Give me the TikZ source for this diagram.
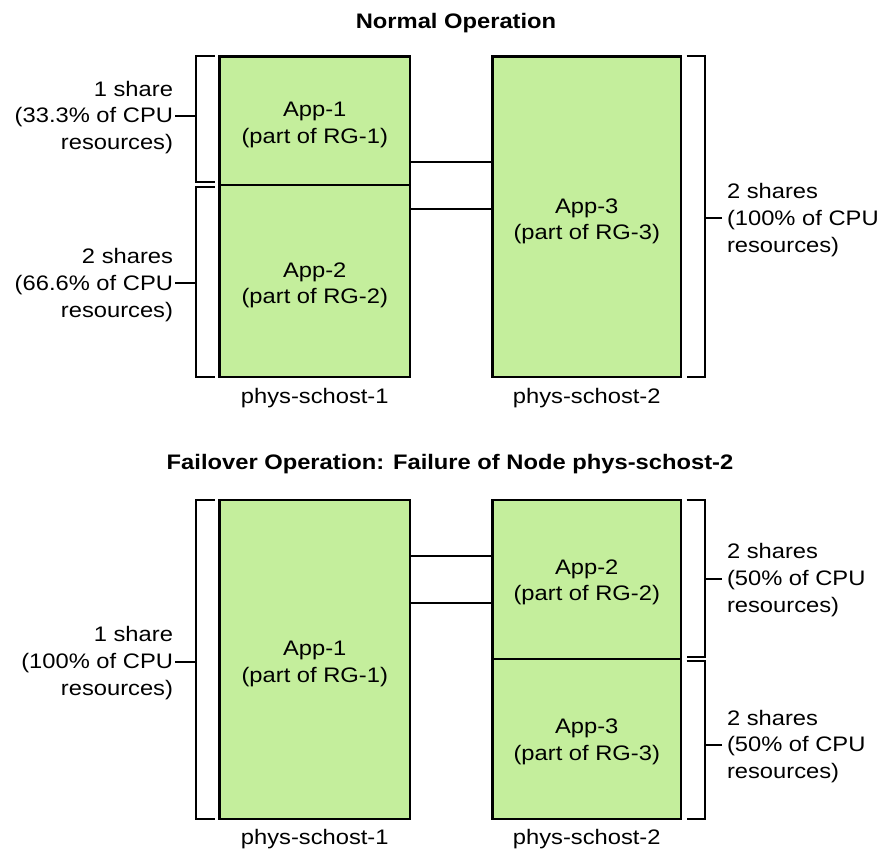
\documentclass[tikz,border=0pt]{standalone}
\usepackage{fontspec}
\setmainfont{Liberation Sans}[FakeStretch=1.13]
\usetikzlibrary{calc}
\definecolor{appgreen}{RGB}{196,238,156}
\begin{document}
\begin{tikzpicture}[x=1pt,y=-1pt,
  appbox/.style={draw=black, line width=2.8pt, fill=appgreen, inner sep=0pt, outer sep=0pt},
  boxtxt/.style={inner sep=0pt, outer sep=0pt, align=center, font=\fontsize{21}{26.6}\selectfont},
  lbl/.style={inner sep=0pt, outer sep=0pt, font=\fontsize{21}{26.6}\selectfont},
  ttl/.style={inner sep=0pt, outer sep=0pt, font=\fontsize{21}{27}\selectfont\bfseries},
  bracket/.style={line width=2pt, line join=miter},
  link/.style={line width=2pt}]
\useasboundingbox (0,0) rectangle (884,850);

% ---------- Normal operation ----------
\node[ttl, anchor=base] (t1) at (456,28.5) {Normal Operation};

\node[appbox, minimum width=190.5pt, minimum height=128.5pt] (A1) at (314.75,120.75) {};
\node[appbox, minimum width=190.5pt, minimum height=192pt] (A2) at (314.75,281) {};
\node[appbox, minimum width=188.5pt, minimum height=320.5pt] (A3) at (586.75,216.75) {};
\node[boxtxt] (A1t) at ([yshift=-4.5pt]A1.center) {App-1\\(part of RG-1)};
\node[boxtxt] (A2t) at ([yshift=-4.5pt]A2.center) {App-2\\(part of RG-2)};
\node[boxtxt] (A3t) at ([yshift=-4.5pt]A3.center) {App-3\\(part of RG-3)};

\coordinate (c1) at (450,161.7);
\coordinate (c2) at (450,209.3);
\draw[link] (A1.east |- c1) -- (A3.west |- c1);
\draw[link] (A2.east |- c2) -- (A3.west |- c2);

\node[lbl, anchor=base] (h1) at ($(A2.south)+(0,26)$) {phys-schost-1};
\node[lbl, anchor=base] (h2) at ($(A3.south)+(0,26)$) {phys-schost-2};

% brackets
\draw[bracket] ([xshift=-5pt]A1.north west) -- ([xshift=-24pt]A1.north west) coordinate (bx1)
   -- ([xshift=-24pt,yshift=2.5pt]A1.south west) -- ([xshift=-5pt,yshift=2.5pt]A1.south west);
\draw[bracket] ([xshift=-5pt,yshift=-2.5pt]A2.north west) -- ([xshift=-24pt,yshift=-2.5pt]A2.north west) coordinate (bx2)
   -- ([xshift=-24pt]A2.south west) -- ([xshift=-5pt]A2.south west);
\draw[bracket] ([xshift=5.7pt]A3.north east) -- ([xshift=24pt]A3.north east) coordinate (bx3)
   -- ([xshift=24pt]A3.south east) -- ([xshift=5.7pt]A3.south east);

\node[lbl, anchor=east, align=right] (L1) at (173,117.5) {1 share\\(33.3\% of CPU\\resources)};
\node[lbl, anchor=east, align=right] (L2) at (173,285) {2 shares\\(66.6\% of CPU\\resources)};
\node[lbl, anchor=west, align=left] (R1) at (727,220) {2 shares\\(100\% of CPU\\resources)};

\draw[bracket] ([xshift=2pt,yshift=1.5pt]L1.east) -- ([yshift=1.5pt]L1.east -| bx1);
\draw[bracket] ([xshift=2pt,yshift=1.5pt]L2.east) -- ([yshift=1.5pt]L2.east -| bx2);
\draw[bracket] ([xshift=-5pt,yshift=1.5pt]R1.west) -- ([yshift=1.5pt]R1.west -| bx3);

% ---------- Failover operation ----------
\node[ttl, anchor=base] (t2) at (450,469.5) {Failover Operation: Failure of Node phys-schost-2};

\node[appbox, minimum width=190.5pt, minimum height=319pt] (B1) at (314.75,659.5) {};
\node[appbox, minimum width=188.5pt, minimum height=159pt] (B2) at (586.75,579.5) {};
\node[appbox, minimum width=188.5pt, minimum height=160pt] (B3) at (586.75,739) {};
\node[boxtxt] (B1t) at ([yshift=-4.5pt]B1.center) {App-1\\(part of RG-1)};
\node[boxtxt] (B2t) at ([yshift=-3pt]B2.center) {App-2\\(part of RG-2)};
\node[boxtxt] (B3t) at ([yshift=-3pt]B3.center) {App-3\\(part of RG-3)};

\coordinate (c3) at (450,555.7);
\coordinate (c4) at (450,603.3);
\draw[link] (B1.east |- c3) -- (B2.west |- c3);
\draw[link] (B1.east |- c4) -- (B2.west |- c4);

\node[lbl, anchor=base] (h3) at ($(B1.south)+(0,25.5)$) {phys-schost-1};
\node[lbl, anchor=base] (h4) at ($(B3.south)+(0,25.5)$) {phys-schost-2};

\draw[bracket] ([xshift=-5pt]B1.north west) -- ([xshift=-24pt]B1.north west) coordinate (bx4)
   -- ([xshift=-24pt]B1.south west) -- ([xshift=-5pt]B1.south west);
\draw[bracket] ([xshift=5.7pt]B2.north east) -- ([xshift=24pt]B2.north east) coordinate (bx5)
   -- ([xshift=24pt,yshift=2.3pt]B2.south east) -- ([xshift=5.7pt,yshift=2.3pt]B2.south east);
\draw[bracket] ([xshift=5.7pt,yshift=-2pt]B3.north east) -- ([xshift=24pt,yshift=-2pt]B3.north east) coordinate (bx6)
   -- ([xshift=24pt]B3.south east) -- ([xshift=5.7pt]B3.south east);

\node[lbl, anchor=east, align=right] (L3) at (173,663) {1 share\\(100\% of CPU\\resources)};
\node[lbl, anchor=west, align=left] (R2) at (727,580) {2 shares\\(50\% of CPU\\resources)};
\node[lbl, anchor=west, align=left] (R3) at (727,746.5) {2 shares\\(50\% of CPU\\resources)};

\draw[bracket] ([xshift=2pt,yshift=1.5pt]L3.east) -- ([yshift=1.5pt]L3.east -| bx4);
\draw[bracket] ([xshift=-5pt,yshift=1.5pt]R2.west) -- ([yshift=1.5pt]R2.west -| bx5);
\draw[bracket] ([xshift=-5pt,yshift=1.5pt]R3.west) -- ([yshift=1.5pt]R3.west -| bx6);
\end{tikzpicture}
\end{document}
